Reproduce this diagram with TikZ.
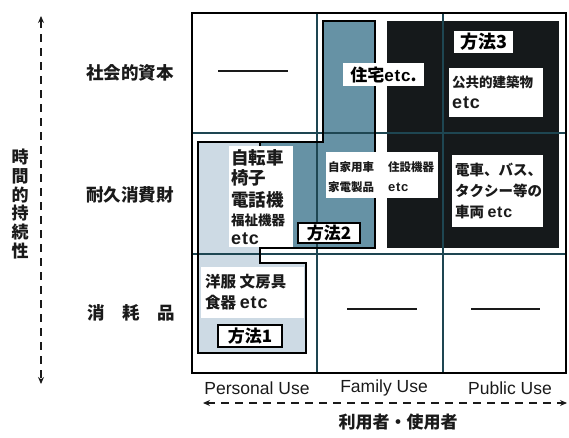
\documentclass[tikz,border=0pt]{standalone}
\usepackage{fontspec}
\setmainfont{Noto Sans CJK JP}
\newfontfamily\latfont{Liberation Sans}
\newfontfamily\etcfont{Liberation Sans}[LetterSpace=5]
\usetikzlibrary{arrows.meta}
\definecolor{gridc}{HTML}{1E4652}
\definecolor{midc}{HTML}{6692A5}
\definecolor{lightc}{HTML}{CDDAE4}
\definecolor{darkc}{HTML}{15191B}
\definecolor{inkc}{HTML}{1A1A1A}
\newcommand{\etcw}[1]{{\etcfont\bfseries\fontsize{#1}{#1}\selectfont etc}}
\tikzset{
  lbl/.style={inner sep=0pt, text=inkc, font=\fontsize{#1}{#1}\selectfont\bfseries},
  latl/.style={inner sep=0pt, text=inkc, font=\fontsize{#1}{#1}\selectfont\latfont},
  mbox/.style={fill=white, draw=black, line width=1.3pt, inner sep=0pt},
  wbox/.style={fill=white, draw=none, inner sep=0pt},
  gridline/.style={draw=gridc, line width=1.1pt},
  outl/.style={draw=black, line width=2pt, line join=miter},
  dashax/.style={draw=inkc, line width=2.2pt, dash pattern=on 8pt off 6pt, {Stealth[length=7pt,width=6pt]}-{Stealth[length=7pt,width=6pt]}},
  nil/.style={draw=inkc, line width=1.5pt},
}
\begin{document}
\begin{tikzpicture}[x=1pt,y=-1pt]
\useasboundingbox (0,0) rectangle (569,438);
% colored regions
\fill[darkc] (387,21) rectangle (559,248);
\fill[midc] (323,21) -- (375,21) -- (375,248) -- (260,248) -- (260,142) -- (323,142) -- cycle;
\fill[lightc] (198,142) -- (260,142) -- (260,263) -- (306,263) -- (306,353) -- (198,353) -- cycle;
% grid
\draw[gridline] (317,13) -- (317,373);
\draw[gridline] (443,13) -- (443,373);
\draw[gridline] (192,133) -- (566,133);
\draw[gridline] (192,254) -- (566,254);
% outlines of methods 1 and 2
\draw[outl] (198,353) -- (198,142) -- (323,142) -- (323,21) -- (375,21) -- (375,248) -- (260,248) -- (260,263) -- (306,263) -- (306,353) -- cycle;
\draw[draw=black, line width=1.5pt] (260,142) -- (260,248);
% outer frame
\draw[draw=black, line width=2.2pt] (192,13) rectangle (566,373);
% white text boxes
\fill[white] (229,146) rectangle (293,247);
\fill[white] (201,267) rectangle (304,318);
\fill[white] (326,152) rectangle (438,198);
\fill[white] (452,155) rectangle (543,227);
\fill[white] (449,68) rectangle (543,117);
% empty-cell dashes
\coordinate (d1a) at (218,71); \coordinate (d1b) at (288,71);
\coordinate (d2a) at (347,309); \coordinate (d2b) at (417,309);
\coordinate (d3a) at (471,309); \coordinate (d3b) at (540,309);
\draw[nil] (d1a) -- (d1b);
\draw[nil] (d2a) -- (d2b);
\draw[nil] (d3a) -- (d3b);
% method boxes
\node[mbox, minimum width=64pt, minimum height=22pt] (m1) at (250,336) {\fontsize{17}{17}\selectfont\bfseries 方法1};
\node[mbox, minimum width=62pt, minimum height=20pt] (m2) at (329,233) {\fontsize{17}{17}\selectfont\bfseries 方法2};
\node[wbox, minimum width=59pt, minimum height=22pt] (m3) at (483.5,42) {\fontsize{18}{18}\selectfont\bfseries 方法3};
\node[wbox, minimum width=81pt, minimum height=23pt] (jutaku) at (383.5,74.5) {\fontsize{17}{17}\selectfont\bfseries 住宅\etcw{17}.};
% row 1 col 3
\node[lbl=13.5, anchor=west] (kokyo) at (452,82) {公共的建築物};
\node[lbl=17, anchor=west] (etc3) at (452,103) {\etcw{18}};
% row 2 col 1
\node[lbl=17.5, anchor=west] (r2a) at (231,158) {自転車};
\node[lbl=17.5, anchor=west] (r2b) at (231,178) {椅子};
\node[lbl=17.5, anchor=west] (r2c) at (231,200) {電話機};
\node[lbl=13.5, anchor=west] (r2d) at (231,220) {福祉機器};
\node[lbl=17, anchor=west] (r2e) at (231,239) {\etcw{18}};
% row 2 col 2
\node[lbl=11.5, anchor=west] (f1) at (328,167) {自家用車};
\node[lbl=11.5, anchor=west] (f2) at (388,167) {住設機器};
\node[lbl=11.5, anchor=west] (f3) at (328,187) {家電製品};
\node[lbl=11.5, anchor=west] (f4) at (388,187) {\etcw{13}};
% row 2 col 3
\node[lbl=14.5, anchor=west] (p1) at (455,170) {電車、バス、};
\node[lbl=14.5, anchor=west] (p2) at (455,191) {タクシー等の};
\node[lbl=14.5, anchor=west] (p3) at (455,212) {車両 \etcw{16}};
% row 3 col 1
\node[lbl=15.5, anchor=west] (c1) at (205,282) {洋服 文房具};
\node[lbl=15.5, anchor=west] (c2) at (205,303) {食器 \etcw{18}};
% row labels
\node[lbl=17.5] (rowa) at (130,73) {社会的資本};
\node[lbl=17.5] (rowb) at (130,195) {耐久消費財};
\node[lbl=17.5] (rowc) at (131,313) {消　耗　品};
% vertical axis
\node[lbl=17, align=center, font=\fontsize{17}{18.7}\selectfont\bfseries] (vaxis) at (20,204) {時\\間\\的\\持\\続\\性};
\coordinate (vtop) at (41,16);
\coordinate (vbot) at (41,384);
\draw[dashax] (vtop) -- (vbot);
% horizontal axis
\node[latl=17.5] (cpers) at (257,388) {Personal Use};
\node[latl=17.5] (cfam) at (384,388) {Family Use};
\node[latl=17.5] (cpub) at (510,388) {Public Use};
\coordinate (hleft) at (203,403);
\coordinate (hright) at (567,403);
\draw[dashax] (hleft) -- (hright);
\node[lbl=17] (haxis) at (398,422) {利用者・使用者};
\end{tikzpicture}
\end{document}
